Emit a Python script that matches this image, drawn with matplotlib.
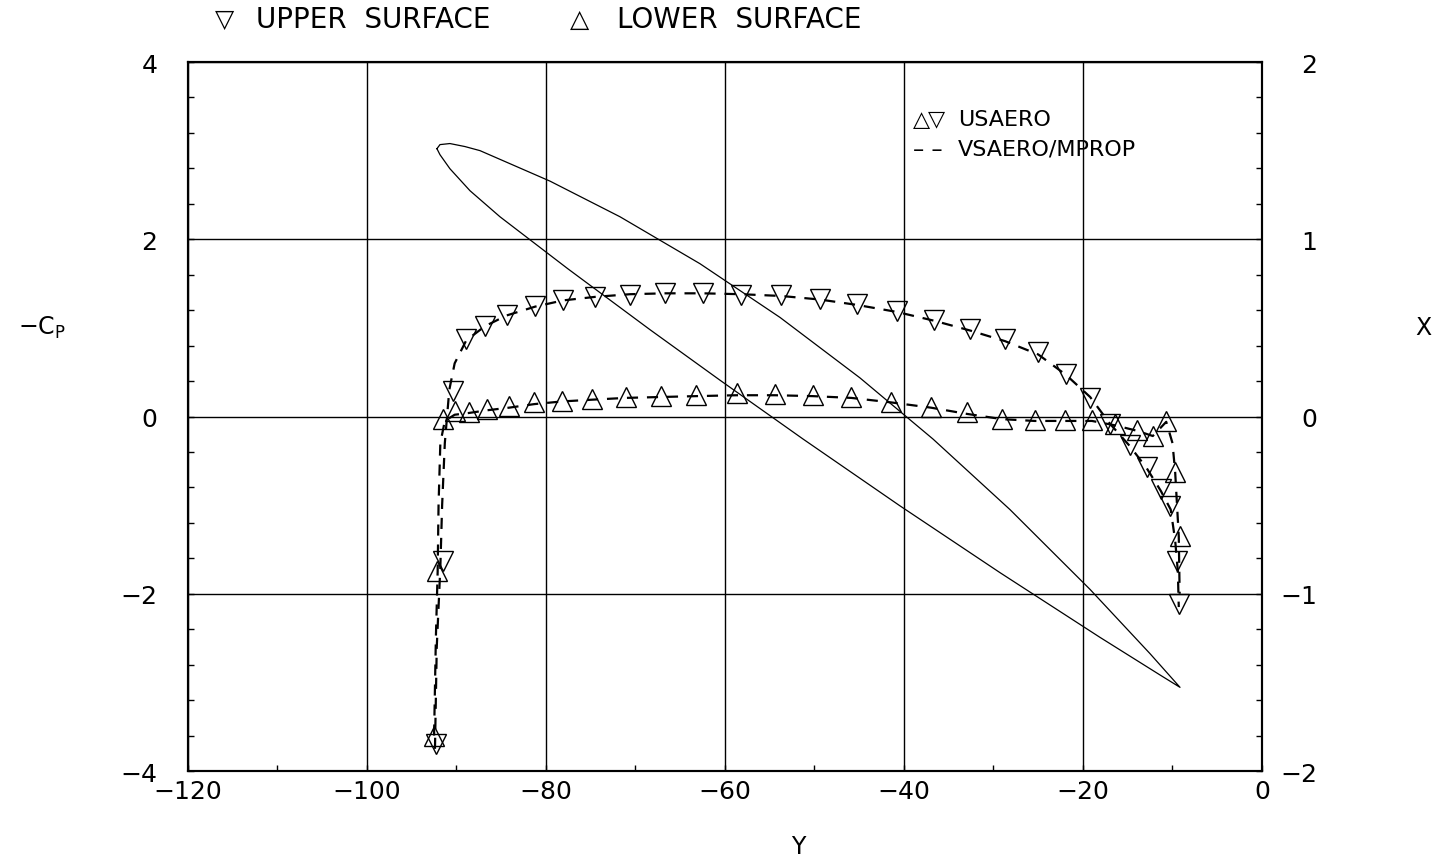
import numpy as np
import matplotlib
matplotlib.use("Agg")
import matplotlib.pyplot as plt
import matplotlib.ticker as mticker

# USAERO panel results (markers)
us_upper_y = [-92.3, -91.5, -90.4, -88.9, -86.8, -84.4, -81.2, -78.1, -74.5, -70.6,
              -66.7, -62.5, -58.2, -53.7, -49.4, -45.3, -40.8, -36.6, -32.6, -28.7,
              -25.0, -21.9, -19.2, -17.0, -14.8, -12.9, -11.3, -10.3, -9.5, -9.3]
us_upper_cp = [-3.70, -1.63, 0.29, 0.87, 1.02, 1.15, 1.25, 1.31, 1.35, 1.37,
               1.39, 1.39, 1.37, 1.37, 1.33, 1.27, 1.19, 1.09, 0.99, 0.87,
               0.73, 0.48, 0.21, -0.09, -0.32, -0.57, -0.82, -1.01, -1.63, -2.12]

us_lower_y = [-92.5, -92.2, -91.5, -90.2, -88.6, -86.6, -84.1, -81.3, -78.2, -74.8,
              -71.1, -67.2, -63.2, -58.7, -54.4, -50.2, -45.9, -41.5, -37.0, -33.0,
              -29.0, -25.4, -22.0, -19.0, -16.4, -14.0, -12.2, -10.7, -9.7, -9.2]
us_lower_cp = [-3.60, -1.74, -0.03, 0.06, 0.05, 0.09, 0.12, 0.16, 0.18, 0.20,
               0.22, 0.23, 0.24, 0.26, 0.25, 0.24, 0.22, 0.16, 0.11, 0.05,
               -0.03, -0.04, -0.04, -0.04, -0.09, -0.15, -0.22, -0.05, -0.63, -1.35]

# VSAERO/MPROP results (dashed)
vs_upper_y = [-92.4, -92.2, -91.8, -91.6, -91.3, -90.8, -90.2, -88.9, -86.8, -84.4,
              -81.2, -78.1, -74.5, -70.6, -66.7, -62.5, -58.2, -53.7, -49.4, -45.3,
              -40.8, -36.6, -32.6, -28.7, -25.0, -21.9, -19.2, -17.0, -14.8, -12.9,
              -11.3, -10.2, -9.7, -9.4, -9.3]
vs_upper_cp = [-3.75, -2.6, -1.7, -1.0, -0.3, 0.30, 0.60, 0.86, 1.02, 1.14,
               1.24, 1.31, 1.35, 1.38, 1.39, 1.39, 1.38, 1.36, 1.32, 1.26,
               1.18, 1.08, 0.97, 0.85, 0.70, 0.47, 0.22, -0.08, -0.33, -0.58,
               -0.84, -1.05, -1.40, -1.75, -2.15]

vs_lower_y = [-92.5, -92.3, -92.1, -92.0, -91.8, -91.3, -90.2, -88.6, -86.6, -84.1,
              -81.3, -78.2, -74.8, -71.1, -67.2, -63.2, -58.7, -54.4, -50.2, -45.9,
              -41.5, -37.0, -33.0, -29.0, -25.4, -22.0, -19.0, -16.4, -14.0, -12.2,
              -10.7, -10.0, -9.7, -9.3, -9.2]
vs_lower_cp = [-3.60, -2.5, -1.75, -1.0, -0.3, -0.05, 0.02, 0.04, 0.07, 0.10,
               0.14, 0.17, 0.19, 0.21, 0.22, 0.23, 0.24, 0.24, 0.23, 0.21,
               0.16, 0.10, 0.03, -0.03, -0.05, -0.05, -0.05, -0.10, -0.16, -0.22,
               -0.06, -0.3, -0.63, -1.35, -2.0]

# blade planform outline (Y, X) on the right axis, traced round from the root tip
blade_y = [-92.18, -91.84, -90.73, -89.05, -87.37, -79.55, -71.73, -62.79, -53.85, -44.92,
           -36.76, -28.16, -19.22, -12.51, -9.16, -11.40, -18.10, -29.27, -40.45, -51.28,
           -60.56, -68.38, -77.54, -85.14, -88.49, -90.73, -91.84, -92.18]
blade_x = [1.511, 1.534, 1.540, 1.523, 1.500, 1.328, 1.127, 0.862, 0.559, 0.218,
           -0.127, -0.525, -0.975, -1.338, -1.528, -1.458, -1.246, -0.881, -0.504, -0.127,
           0.205, 0.490, 0.833, 1.127, 1.274, 1.398, 1.477, 1.511]

plt.rcParams['font.family'] = 'DejaVu Sans'

fig = plt.figure(figsize=(14.39, 8.62), dpi=100)
ax = fig.add_axes([0.1306, 0.1044, 0.7464, 0.8225])
ax2 = ax.twinx()

ax.plot(vs_upper_y, vs_upper_cp, color='black', linestyle='--', dashes=(5, 4), linewidth=1.6, zorder=2)
ax.plot(vs_lower_y, vs_lower_cp, color='black', linestyle='--', dashes=(5, 4), linewidth=1.6, zorder=2)
ax.plot(us_upper_y, us_upper_cp, linestyle='none', marker='v', markersize=15,
        markerfacecolor='none', markeredgecolor='black', markeredgewidth=1.0, zorder=3)
ax.plot(us_lower_y, us_lower_cp, linestyle='none', marker='^', markersize=15,
        markerfacecolor='none', markeredgecolor='black', markeredgewidth=1.0, zorder=3)

ax2.plot(blade_y, blade_x, color='black', linewidth=0.9)

ax.set_xlim(-120, 0)
ax.set_ylim(-4, 4)
ax2.set_ylim(-2, 2)

ax.xaxis.set_major_locator(mticker.MultipleLocator(20))
ax.xaxis.set_minor_locator(mticker.MultipleLocator(10))
ax.yaxis.set_major_locator(mticker.MultipleLocator(2))
ax.yaxis.set_minor_locator(mticker.MultipleLocator(0.4))
ax2.yaxis.set_major_locator(mticker.MultipleLocator(1))
ax2.yaxis.set_minor_locator(mticker.MultipleLocator(0.2))

ax.grid(which='major', color='black', linewidth=1.0)
for a in (ax, ax2):
    for s in a.spines.values():
        s.set_linewidth(1.5)

ax.tick_params(which='both', direction='in', length=4, width=1)
ax.tick_params(axis='x', which='major', labelsize=18, pad=6)
ax.tick_params(axis='y', which='major', labelsize=18, pad=22)
ax2.tick_params(which='both', direction='in', length=4, width=1)
ax2.tick_params(axis='y', which='major', labelsize=18, pad=40)
for lab in ax2.get_yticklabels():
    lab.set_horizontalalignment('right')

fig.text(0.029, 0.62, r'$-$C$_\mathregular{P}$', fontsize=17, ha='center', va='center')
fig.text(0.989, 0.62, 'X', fontsize=17, ha='center', va='center')
fig.text(0.555, 0.017, 'Y', fontsize=17, ha='center', va='center')

fig.text(0.156, 0.977, '\u25bd', fontsize=18, ha='center', va='center')
fig.text(0.178, 0.977, 'UPPER  SURFACE', fontsize=20, ha='left', va='center')
fig.text(0.403, 0.977, '\u25b3', fontsize=18, ha='center', va='center')
fig.text(0.429, 0.977, 'LOWER  SURFACE', fontsize=20, ha='left', va='center')

ax.text(-39.0, 3.36, '\u25b3', fontsize=16, ha='left', va='center')
ax.text(-37.3, 3.36, '\u25bd', fontsize=16, fontweight='bold', ha='left', va='center')
ax.text(-34.0, 3.36, 'USAERO', fontsize=16, ha='left', va='center')
ax.text(-39.0, 3.02, '\u2013 \u2013', fontsize=16, ha='left', va='center')
ax.text(-34.0, 3.02, 'VSAERO/MPROP', fontsize=16, ha='left', va='center')

fig.savefig('out.png', dpi=100)
